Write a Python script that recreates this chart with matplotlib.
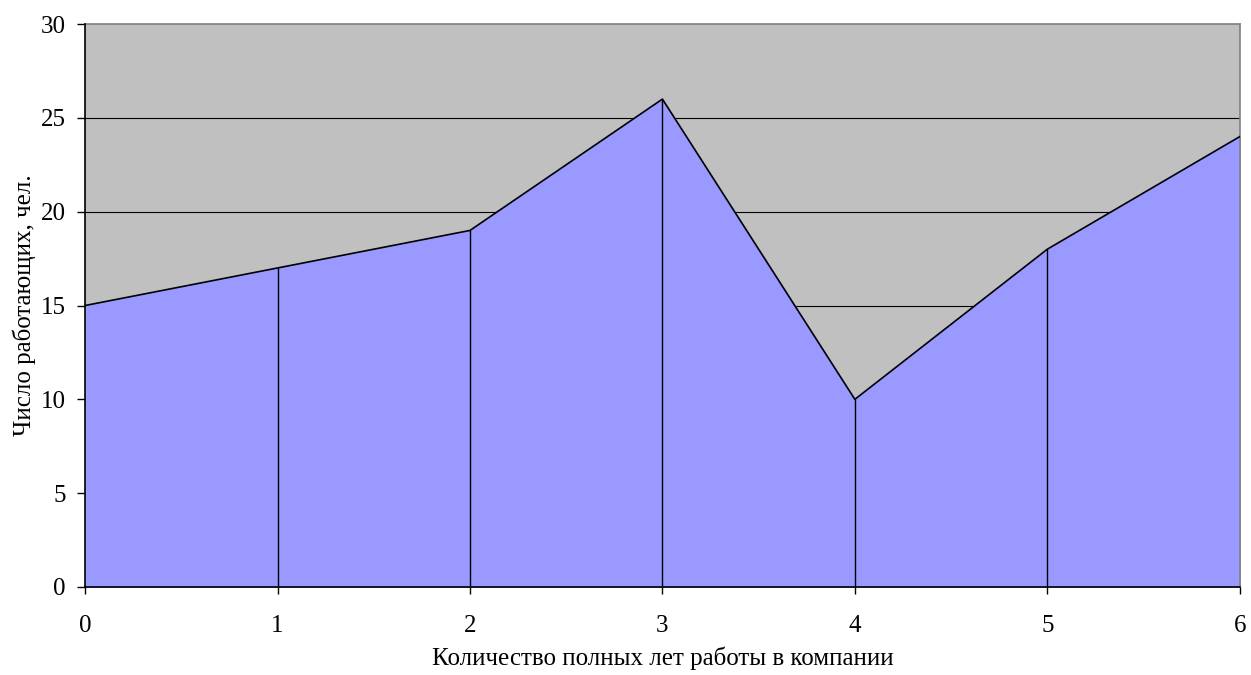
import matplotlib.pyplot as plt
import numpy as np

# Data
years = [0, 1, 2, 3, 4, 5, 6]
workers = [15, 17, 19, 26, 10, 18, 24]

plt.rcParams['font.family'] = ['Liberation Serif', 'DejaVu Serif']

fig = plt.figure(figsize=(12.51, 6.75), dpi=100)
ax = fig.add_axes([0.068, 0.1304, 0.923, 0.834])

ax.set_facecolor('#C0C0C0')
ax.set_xlim(0, 6)
ax.set_ylim(0, 30)
ax.set_yticks(range(0, 31, 5))
ax.set_xticks(years)

# gridlines behind the area
for y in range(5, 30, 5):
    ax.axhline(y, color='black', linewidth=0.8, zorder=1)

ax.fill_between(years, workers, 0, color='#9999FF', zorder=2)
ax.plot(years, workers, color='black', linewidth=1.2, zorder=3)
ax.vlines(years[1:-1], 0, workers[1:-1], color='black', linewidth=1.0, zorder=3)

for side in ['top', 'right']:
    ax.spines[side].set_color('#808080')
    ax.spines[side].set_linewidth(1.2)
for side in ['left', 'bottom']:
    ax.spines[side].set_color('black')
    ax.spines[side].set_linewidth(1.2)
    ax.spines[side].set_zorder(4)

ax.tick_params(axis='both', direction='out', width=1, labelsize=18, colors='black')
ax.tick_params(axis='y', length=6, pad=8)
ax.tick_params(axis='x', length=5, pad=15)
ax.set_xlabel('Количество полных лет работы в компании', fontsize=18)
ax.set_ylabel('Число работающих, чел.', fontsize=18)
ax.xaxis.set_label_coords(0.5, -0.106)
ax.yaxis.set_label_coords(-0.0425, 0.5)

fig.savefig('out.png', dpi=100)
